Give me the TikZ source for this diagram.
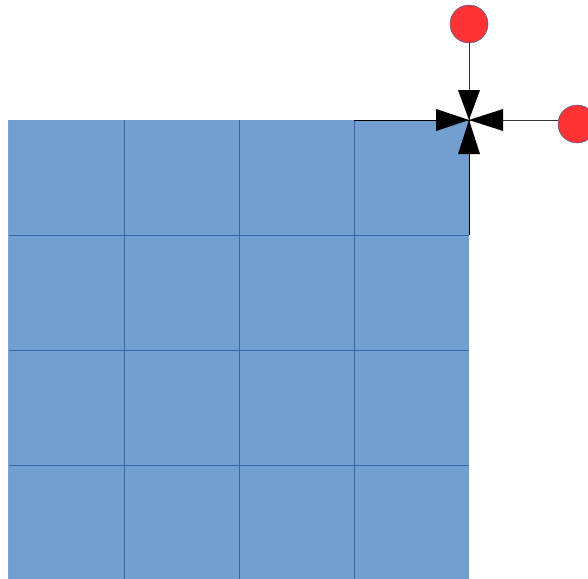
\documentclass[tikz,border=0pt]{standalone}
\begin{document}
\begin{tikzpicture}[x=1pt,y=-1pt,
  cellfill/.style={fill=cellblue},
  gridline/.style={draw=gridblue,line width=0.9pt},
  redball/.style={circle,fill=ballred,draw=gridblue,line width=0.5pt,minimum size=38pt,inner sep=0pt},
  conn/.style={draw=black!80,line width=0.8pt},
  tipfill/.style={fill=black}]
\definecolor{cellblue}{HTML}{729FCF}
\definecolor{gridblue}{HTML}{3465A4}
\definecolor{ballred}{HTML}{FF3333}
\useasboundingbox (0,0) rectangle (588,578);
\begin{scope}
\clip (0,0) rectangle (588,578);
\fill[cellblue] (8,120) rectangle (469,580);
\foreach \x in {124,239,354} \draw[gridline] (\x,120) -- (\x,580);
\foreach \y in {235,350,465} \draw[gridline] (8,\y) -- (469,\y);
\draw[gridblue!60,line width=0.6pt] (8,120) -- (8,580);
\draw[black,line width=0.9pt] (354,120) -- (469,120) -- (469,235);
\end{scope}
\coordinate (corner) at (469,120);
\node[redball] (top) at (469,24) {};
\node[redball] (right) at (577,124) {};
\draw[conn] (top) -- (corner);
\draw[conn] (right.west |- corner) -- (corner);
\fill[tipfill] (corner) -- (458,90) -- (480,90) -- cycle;
\fill[tipfill] (corner) -- (458,154) -- (480,154) -- cycle;
\fill[tipfill] (corner) -- (436,109) -- (436,131) -- cycle;
\fill[tipfill] (corner) -- (503,109) -- (503,131) -- cycle;
\end{tikzpicture}
\end{document}
